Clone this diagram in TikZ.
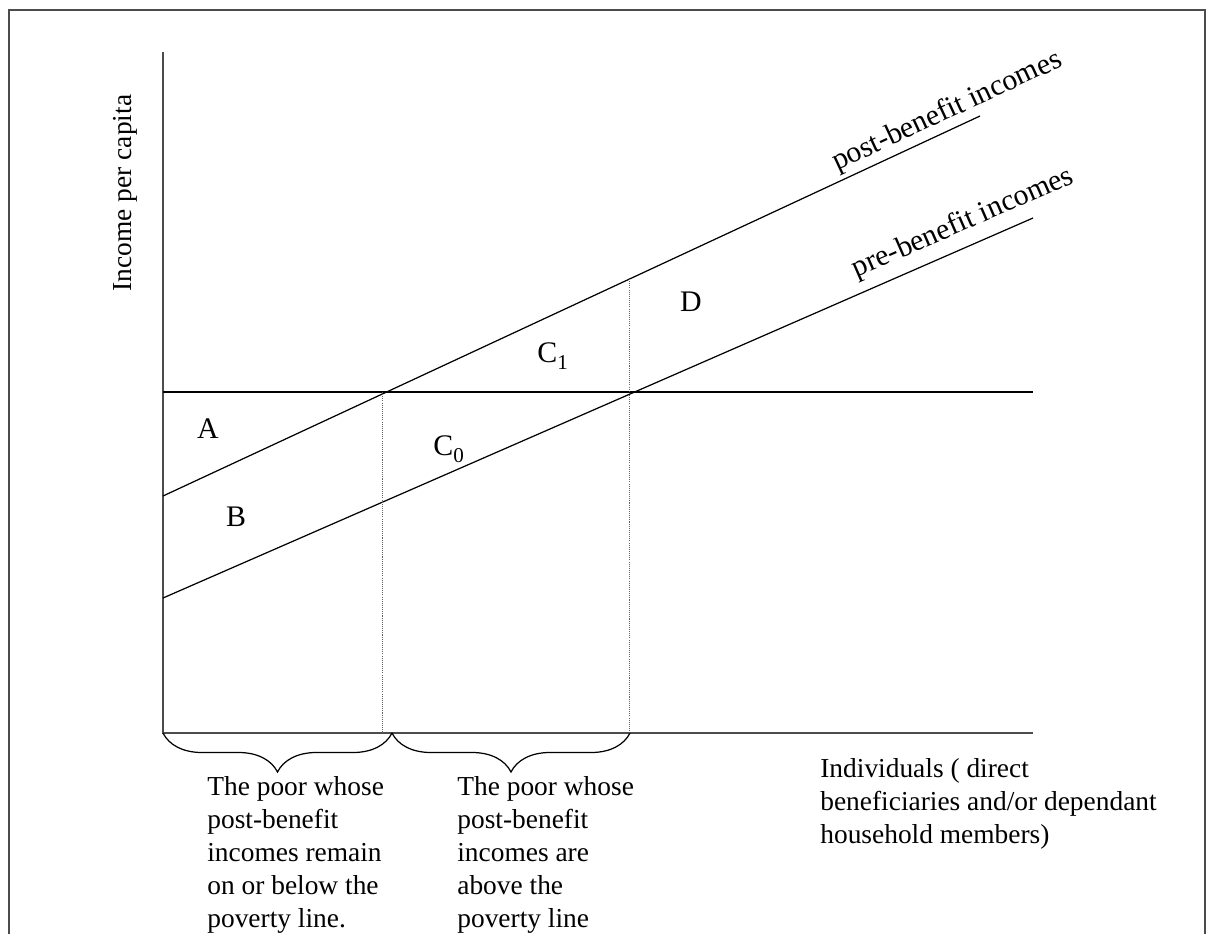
\documentclass[tikz,border=0pt]{standalone}
\usepackage{fontspec}
\setmainfont{Liberation Serif}
\usetikzlibrary{decorations.pathreplacing}
\newcommand{\lowsub}[1]{\raisebox{-4.5pt}{\fontsize{12}{14}\selectfont #1}}

\begin{document}
\begin{tikzpicture}[x=0.02cm, y=-0.02cm,
    frameline/.style={line width=1.1pt, black!70},
    axis/.style={line width=1.1pt, black!70},
    incomeline/.style={line width=0.7pt},
    guide/.style={line width=0.4pt, black!60, dash pattern=on 0.6pt off 0.6pt},
    lbl/.style={inner sep=0pt, font=\fontsize{15.6}{18.8}\selectfont},
    area/.style={inner sep=0pt, font=\fontsize{17}{20}\selectfont},
    blocktext/.style={lbl, align=left, anchor=north west},
    grouping/.style={decorate, decoration={brace, mirror, amplitude=0.78cm}, line width=0.7pt}]
    \useasboundingbox (0, 0) rectangle (1207, 934);

    % Frame
    \draw[frameline] (9, 934) -- (9, 10) -- (1205, 10) -- (1205, 934);

    % Axes
    \coordinate (O) at (163, 733);
    \coordinate (ytop) at (163, 52);
    \coordinate (xend) at (1033, 733);
    \draw[axis] (ytop) -- (O) -- (xend);
    \node[lbl, rotate=90] (ylab) at (125, 193) {Income per capita};

    % Poverty line
    \coordinate (povL) at (163, 392);
    \coordinate (povR) at (1033, 392);
    \draw[incomeline] (povL) -- (povR);

    % Post-benefit and pre-benefit incomes
    \coordinate (postL) at (163, 496);
    \coordinate (postR) at (980, 116);
    \coordinate (preL) at (163, 598);
    \coordinate (preR) at (1033, 218);
    \draw[incomeline] (postL) -- (postR)
        node[area, pos=0.826, sloped, anchor=south west, inner sep=2pt] (postlab) {post-benefit incomes};
    \draw[incomeline] (preL) -- (preR)
        node[area, pos=0.795, sloped, anchor=south west, inner sep=5pt] (prelab) {pre-benefit incomes};

    % Dotted guides
    \coordinate (g1top) at (382, 392);
    \coordinate (g1bot) at (382, 733);
    \coordinate (g2top) at (629, 279);
    \coordinate (g2bot) at (629, 733);
    \draw[guide] (g1top) -- (g1bot);
    \draw[guide] (g2top) -- (g2bot);

    % Areas
    \node[area] (A) at (208, 429) {A};
    \node[area] (B) at (236, 517) {B};
    \node[area, anchor=base west] (C0) at (433, 455) {C\lowsub{0}};
    \node[area, anchor=base west] (C1) at (537, 362) {C\lowsub{1}};
    \node[area] (D) at (691, 302) {D};

    % Braces
    \coordinate (b1) at (392, 733);
    \coordinate (b2) at (630, 733);
    \draw[grouping] (O) -- (b1);
    \draw[grouping] (b1) -- (b2);

    % Texts below the axis
    \node[blocktext] (poorbelow) at (207, 776) {The poor whose\\post-benefit\\incomes remain\\on or below the\\poverty line.};
    \node[blocktext] (poorabove) at (457, 776) {The poor whose\\post-benefit\\incomes are\\above the\\poverty line};
    \node[blocktext] (xlab) at (820, 758) {Individuals ( direct\\beneficiaries and/or dependant\\household members)};
\end{tikzpicture}
\end{document}
